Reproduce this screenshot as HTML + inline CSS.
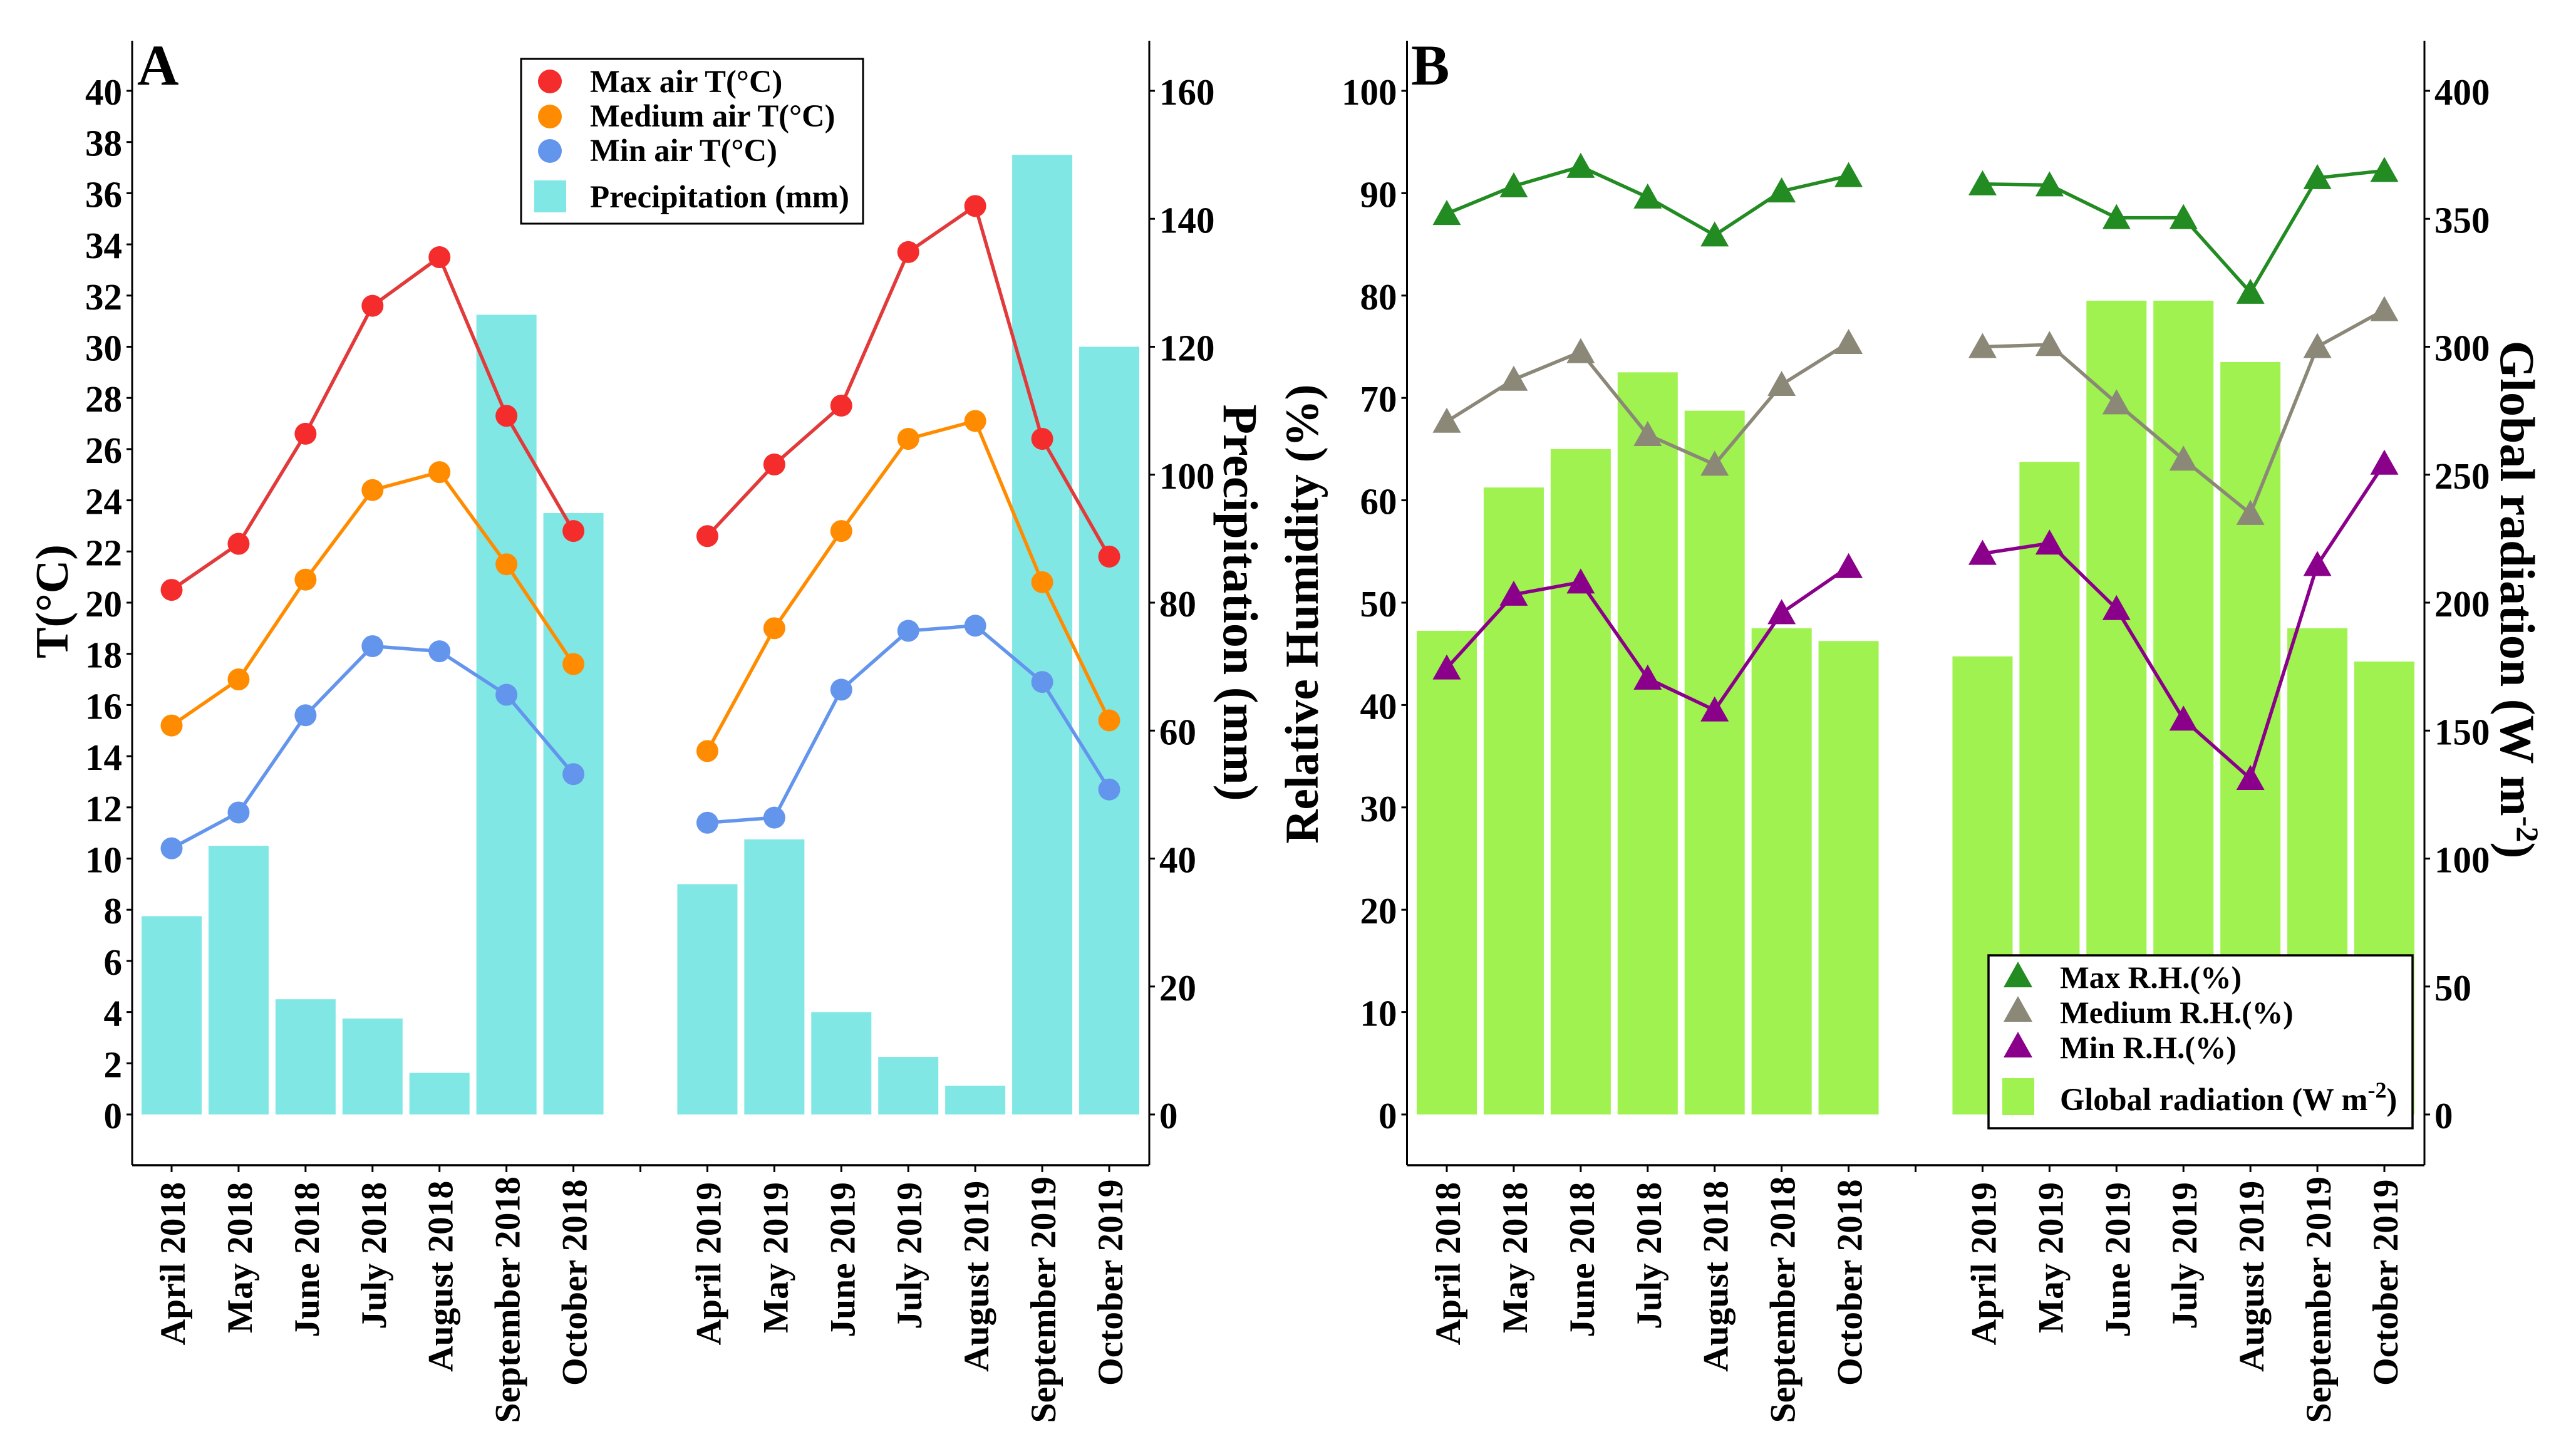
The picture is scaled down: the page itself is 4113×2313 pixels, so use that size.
<!DOCTYPE html>
<html>
<head>
<meta charset="utf-8">
<title>Weather chart</title>
<style>
html,body{margin:0;padding:0;background:#fff;}
svg{display:block;}
text{font-family:"Liberation Serif",serif;font-weight:bold;fill:#000;}
</style>
</head>
<body>
<svg id="chart" xmlns="http://www.w3.org/2000/svg" width="4113" height="2313" viewBox="0 0 4113 2313"></svg>
<script>
const categories = ["April 2018","May 2018","June 2018","July 2018","August 2018","September 2018","October 2018","","April 2019","May 2019","June 2019","July 2019","August 2019","September 2019","October 2019"];

const maxAirT = [20.5,22.3,26.6,31.6,33.5,27.3,22.8,null,22.6,25.4,27.7,33.7,35.5,26.4,21.8];
const mediumAirT = [15.2,17.0,20.9,24.4,25.1,21.5,17.6,null,14.2,19.0,22.8,26.4,27.1,20.8,15.4];
const minAirT = [10.4,11.8,15.6,18.3,18.1,16.4,13.3,null,11.4,11.6,16.6,18.9,19.1,16.9,12.7];
const precipitation = [31,42,18,15,6.5,125,94,null,36,43,16,9,4.5,150,120];

const maxRH = [88,90.7,92.6,89.6,85.9,90.2,91.7,null,90.9,90.8,87.6,87.6,80.3,91.5,92.2];
const mediumRH = [67.7,71.8,74.5,66.4,63.5,71.3,75.4,null,75,75.2,69.5,64,58.7,75,78.6];
const minRH = [43.6,50.8,52,42.6,39.5,49,53.5,null,54.8,55.8,49.4,38.6,32.8,53.7,63.6];
const globalRadiation = [189,245,260,290,275,190,185,null,179,255,318,318,294,190,177];

const tempTicks = [0,2,4,6,8,10,12,14,16,18,20,22,24,26,28,30,32,34,36,38,40];
const precipTicks = [0,20,40,60,80,100,120,140,160];
const rhTicks = [0,10,20,30,40,50,60,70,80,90,100];
const radTicks = [0,50,100,150,200,250,300,350,400];

const NS = "http://www.w3.org/2000/svg";
const root = document.getElementById("chart");
const BASE_Y = 1779, TOP_Y = 65, AXIS_Y = 1860, STEP = 106.93, BAR_W = 96;

function xA(i){ return 274 + STEP * i; }
function xB(i){ return 2310 + STEP * i; }
function yTemp(v){ return BASE_Y - v * 40.85; }
function yPrecip(v){ return BASE_Y - v * 10.2125; }
function yRH(v){ return BASE_Y - v * 16.34; }
function yRad(v){ return BASE_Y - v * 4.085; }

function make(tag, parent, attrs){
  const el = document.createElementNS(NS, tag);
  for (const k in attrs) el.setAttribute(k, attrs[k]);
  parent.appendChild(el);
  return el;
}
function group(parent){ return make("g", parent, {}); }

function drawBars(parent, values, xf, yf, color){
  values.forEach(function(v, i){
    if (v === null) return;
    const r = make("rect", parent, {x: xf(i) - BAR_W / 2, y: yf(v), width: BAR_W, height: BASE_Y - yf(v), fill: color});
    
    
  });
}
function drawLine(parent, values, xf, yf, color){
  let pts = [];
  const flush = function(){
    if (pts.length) {
      const l = make("polyline", parent, {points: pts.join(" "), fill: "none", stroke: color, "stroke-width": 5.5, "stroke-linejoin": "round"});
      
      
    }
    pts = [];
  };
  values.forEach(function(v, i){
    if (v === null) { flush(); return; }
    pts.push(xf(i) + "," + yf(v));
  });
  flush();
}
function drawCircles(parent, values, xf, yf, color){
  values.forEach(function(v, i){
    if (v === null) return;
    const c = make("circle", parent, {cx: xf(i), cy: yf(v), r: 17.5, fill: color});
    
    
  });
}
function triPoints(x, y){
  return x + "," + (y - 22) + " " + (x - 22.5) + "," + (y + 18) + " " + (x + 22.5) + "," + (y + 18);
}
function drawTriangles(parent, values, xf, yf, color){
  values.forEach(function(v, i){
    if (v === null) return;
    const t = make("polygon", parent, {points: triPoints(xf(i), yf(v)), fill: color});
    
    
  });
}
function drawYAxis(parent, x, ticks, yf, side, name){
  const g = group(parent);
  
  
  make("line", g, {x1: x, x2: x, y1: TOP_Y, y2: AXIS_Y, stroke: "#000", "stroke-width": 3});
  ticks.forEach(function(v){
    const y = yf(v);
    make("line", g, {x1: x, x2: x + side * 9, y1: y, y2: y, stroke: "#000", "stroke-width": 3});
    const t = make("text", g, {x: x + side * 16, y: y + 22, "font-size": 59, "text-anchor": side < 0 ? "end" : "start"});
    t.textContent = v;
  });
}
function drawXAxis(parent, xf, x0, x1, name){
  const g = group(parent);
  
  
  make("line", g, {x1: x0, x2: x1, y1: AXIS_Y, y2: AXIS_Y, stroke: "#000", "stroke-width": 3.5});
  categories.forEach(function(c, i){
    const x = xf(i);
    make("line", g, {x1: x, x2: x, y1: AXIS_Y, y2: AXIS_Y + 11, stroke: "#000", "stroke-width": 3});
    if (!c) return;
    const top = 1887 - Math.max(0, (c.length - 10) * 2.25);
    const t = make("text", g, {"font-size": 57.5, "text-anchor": "end", transform: "translate(" + (x + 21) + "," + top + ") rotate(-90)"});
    t.textContent = c;
  });
}
function axisTitle(parent, label, x, y, rot, size, name){
  const t = make("text", parent, {"font-size": size, "text-anchor": "middle", transform: "translate(" + x + "," + y + ") rotate(" + rot + ")"});
  t.textContent = label;
  
  
  return t;
}

/* ---------- Panel A ---------- */
const panelA = group(root);



const precipBars = group(panelA);


drawBars(precipBars, precipitation, xA, yPrecip, "#80e7e5");

const maxAirGroup = group(panelA);


drawLine(maxAirGroup, maxAirT, xA, yTemp, "#e23a3a");
drawCircles(maxAirGroup, maxAirT, xA, yTemp, "#f52c2c");

const medAirGroup = group(panelA);


drawLine(medAirGroup, mediumAirT, xA, yTemp, "#ff8c00");
drawCircles(medAirGroup, mediumAirT, xA, yTemp, "#ff8c00");

const minAirGroup = group(panelA);


drawLine(minAirGroup, minAirT, xA, yTemp, "#6495ed");
drawCircles(minAirGroup, minAirT, xA, yTemp, "#6495ed");

drawYAxis(panelA, 211, tempTicks, yTemp, -1, 'temperature-axis');
drawYAxis(panelA, 1835, precipTicks, yPrecip, 1, 'precipitation-axis');
drawXAxis(panelA, xA, 211, 1835, 'panel-a-x-axis');
axisTitle(panelA, "T(°C)", 108, 960, -90, 74, 'temperature-axis-title');
axisTitle(panelA, "Precipitation (mm)", 1954, 962, 90, 78, 'precipitation-axis-title');

const labelA = make("text", panelA, {x: 219, y: 135, "font-size": 92});
labelA.textContent = "A";



const legendA = group(panelA);


make("rect", legendA, {x: 832, y: 94, width: 546, height: 263, fill: "#fff", stroke: "#000", "stroke-width": 3});
const legA1 = make("circle", legendA, {cx: 878, cy: 130, r: 19, fill: "#f52c2c"});


const legA2 = make("circle", legendA, {cx: 878, cy: 186, r: 19, fill: "#ff8c00"});


const legA3 = make("circle", legendA, {cx: 878, cy: 241, r: 19, fill: "#6495ed"});


const legA4 = make("rect", legendA, {x: 853, y: 288, width: 51, height: 51, fill: "#80e7e5"});


const legAT1 = make("text", legendA, {x: 942, y: 147, "font-size": 50.5});
legAT1.textContent = "Max air T(°C)";


const legAT2 = make("text", legendA, {x: 942, y: 202, "font-size": 50.5});
legAT2.textContent = "Medium air T(°C)";


const legAT3 = make("text", legendA, {x: 942, y: 257, "font-size": 50.5});
legAT3.textContent = "Min air T(°C)";


const legAT4 = make("text", legendA, {x: 942, y: 331, "font-size": 51});
legAT4.textContent = "Precipitation (mm)";



/* ---------- Panel B ---------- */
const panelB = group(root);



const radBars = group(panelB);


drawBars(radBars, globalRadiation, xB, yRad, "#9ff24f");

const maxRHGroup = group(panelB);


drawLine(maxRHGroup, maxRH, xB, yRH, "#228b22");
drawTriangles(maxRHGroup, maxRH, xB, yRH, "#228b22");

const medRHGroup = group(panelB);


drawLine(medRHGroup, mediumRH, xB, yRH, "#8b8878");
drawTriangles(medRHGroup, mediumRH, xB, yRH, "#8b8878");

const minRHGroup = group(panelB);


drawLine(minRHGroup, minRH, xB, yRH, "#8b008b");
drawTriangles(minRHGroup, minRH, xB, yRH, "#8b008b");

drawYAxis(panelB, 2246.5, rhTicks, yRH, -1, 'relative-humidity-axis');
drawYAxis(panelB, 3871, radTicks, yRad, 1, 'global-radiation-axis');
drawXAxis(panelB, xB, 2246.5, 3871, 'panel-b-x-axis');
axisTitle(panelB, "Relative Humidity (%)", 2104, 980, -90, 75, 'relative-humidity-axis-title');

const radTitle = axisTitle(panelB, "Global radiation (W m", 3993, 957, 90, 78, 'global-radiation-axis-title');
const radSup = make("tspan", radTitle, {dy: -26, "font-size": 50});
radSup.textContent = "-2";
const radClose = make("tspan", radTitle, {dy: 26});
radClose.textContent = ")";

const labelB = make("text", panelB, {x: 2253, y: 135, "font-size": 92});
labelB.textContent = "B";



const legendB = group(panelB);


make("rect", legendB, {x: 3175, y: 1525, width: 677, height: 276, fill: "#fff", stroke: "#000", "stroke-width": 3.5});
const legB1 = make("polygon", legendB, {points: "3222,1535 3199,1576 3245,1576", fill: "#228b22"});


const legB2 = make("polygon", legendB, {points: "3222,1590 3199,1631 3245,1631", fill: "#8b8878"});


const legB3 = make("polygon", legendB, {points: "3222,1647 3199,1688 3245,1688", fill: "#8b008b"});


const legB4 = make("rect", legendB, {x: 3197, y: 1721, width: 51, height: 59, fill: "#9ff24f"});


const legBT1 = make("text", legendB, {x: 3289, y: 1577, "font-size": 49.5});
legBT1.textContent = "Max R.H.(%)";


const legBT2 = make("text", legendB, {x: 3289, y: 1633, "font-size": 49.5});
legBT2.textContent = "Medium R.H.(%)";


const legBT3 = make("text", legendB, {x: 3289, y: 1689, "font-size": 49.5});
legBT3.textContent = "Min R.H.(%)";


const legBT4 = make("text", legendB, {x: 3289, y: 1772, "font-size": 50.5});
legBT4.textContent = "Global radiation (W m";


const legSup = make("tspan", legBT4, {dy: -20, "font-size": 36});
legSup.textContent = "-2";
const legClose = make("tspan", legBT4, {dy: 20});
legClose.textContent = ")";
</script>
</body>
</html>
